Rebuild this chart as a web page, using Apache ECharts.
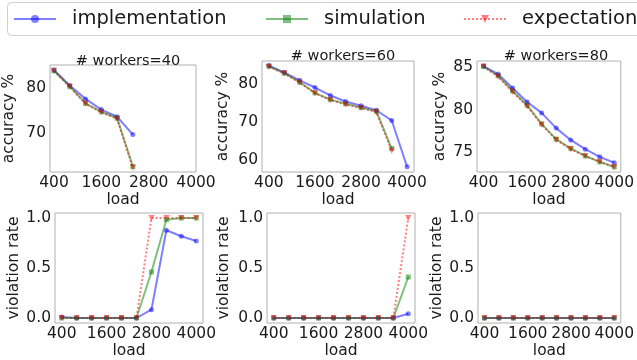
<!DOCTYPE html>
<html>
<head>
<meta charset="utf-8">
<script src="https://cdn.jsdelivr.net/npm/echarts@6/dist/echarts.min.js"></script>
<style>
  html, body { margin: 0; padding: 0; background: #fff; }
  #chart { width: 637px; height: 360px; }
</style>
</head>
<body>
<div id="chart"></div>
<script>
// load values on the x axis
const loads = [400, 800, 1200, 1600, 2000, 2400, 2800, 3200, 3600, 4000];
const xTicks = [400, 1600, 2800, 4000];

// accuracy %, one array per worker count
const acc40Impl = [84.1, 80.6, 77.6, 75.2, 73.6, 69.6];
const acc40Sim = [83.9, 80.4, 76.6, 74.7, 73.3, 62.4];
const acc40Exp = [83.9, 80.3, 76.5, 74.6, 73.1, 62.2];

const acc60Impl = [84.9, 83.1, 81.0, 79.1, 77.0, 75.4, 74.3, 73.1, 70.4, 58.2];
const acc60Sim = [84.7, 82.9, 80.5, 77.7, 75.9, 74.8, 73.8, 72.8, 63.0];
const acc60Exp = [84.6, 82.8, 80.4, 77.6, 75.8, 74.6, 73.7, 72.6, 62.4];

const acc80Impl = [85.15, 84.2, 82.55, 80.9, 79.6, 77.8, 76.4, 75.3, 74.4, 73.7];
const acc80Sim = [85.1, 84.0, 82.2, 80.5, 78.3, 76.5, 75.4, 74.5, 73.8, 73.2];
const acc80Exp = [85.1, 83.9, 82.1, 80.4, 78.2, 76.4, 75.3, 74.5, 73.8, 73.2];

// violation rate
const viol40Impl = [0.01, 0, 0, 0, 0, 0, 0.083, 0.877, 0.817, 0.77];
const viol40Sim = [0, 0, 0, 0, 0, 0, 0.46, 0.983, 1.0, 1.0];
const viol40Exp = [0, 0, 0, 0, 0, 0, 1, 1, 1, 1];

const viol60Impl = [0, 0, 0, 0, 0, 0, 0, 0, 0, 0.043];
const viol60Sim = [0, 0, 0, 0, 0, 0, 0, 0, 0, 0.41];
const viol60Exp = [0, 0, 0, 0, 0, 0, 0, 0, 0, 1];

const viol80Impl = [0, 0, 0, 0, 0, 0, 0, 0, 0, 0];
const viol80Sim = [0, 0, 0, 0, 0, 0, 0, 0, 0, 0];
const viol80Exp = [0, 0, 0, 0, 0, 0, 0, 0, 0, 0];

const titles = ["# workers=40", "# workers=60", "# workers=80"];

const FONT = "DejaVu Sans";
const LABEL_SIZE = 15.5;
const chart = echarts.init(document.getElementById("chart"));

// panel layout (px)
const panels = [
  { left: 50, top: 65, width: 146, height: 107, xMin: 300, xMax: 4000, yMin: 61.2, yMax: 85.2, yTicks: [70, 80], yName: "accuracy %", nameGap: 33 },
  { left: 262, top: 61, width: 152, height: 111, xMin: 220, xMax: 4180, yMin: 56.8, yMax: 86.1, yTicks: [60, 70, 80], yName: "accuracy %", nameGap: 31 },
  { left: 477, top: 61, width: 148, height: 111, xMin: 220, xMax: 4180, yMin: 72.6, yMax: 85.75, yTicks: [75, 80, 85], yName: "accuracy %", nameGap: 29 },
  { left: 55, top: 213, width: 148, height: 110, xMin: 220, xMax: 4180, yMin: -0.05, yMax: 1.05, yTicks: [0, 0.5, 1], yName: "violation rate", nameGap: 33 },
  { left: 267, top: 213, width: 148, height: 110, xMin: 220, xMax: 4180, yMin: -0.05, yMax: 1.05, yTicks: [0, 0.5, 1], yName: "violation rate", nameGap: 35 },
  { left: 478, top: 213, width: 148, height: 110, xMin: 220, xMax: 4180, yMin: -0.05, yMax: 1.05, yTicks: [0, 0.5, 1], yName: "violation rate", nameGap: 31 }
];

const panelData = [
  [acc40Impl, acc40Sim, acc40Exp],
  [acc60Impl, acc60Sim, acc60Exp],
  [acc80Impl, acc80Sim, acc80Exp],
  [viol40Impl, viol40Sim, viol40Exp],
  [viol60Impl, viol60Sim, viol60Exp],
  [viol80Impl, viol80Sim, viol80Exp]
];

const styles = [
  { name: "implementation", color: "rgba(0,0,255,0.5)", symbol: "circle", size: 5, type: "solid", rotate: 0, legendLeft: 13 },
  { name: "simulation", color: "rgba(0,128,0,0.5)", symbol: "rect", size: 5, type: "solid", rotate: 0, legendLeft: 265 },
  { name: "expectation", color: "rgba(255,0,0,0.5)", symbol: "triangle", size: 6, type: "dotted", rotate: 180, legendLeft: 463 }
];

function pairs(vals) {
  return vals.map((v, i) => [loads[i], v]);
}

const grid = [], xAxis = [], yAxis = [], series = [];
panels.forEach((p, i) => {
  grid.push({
    left: p.left, top: p.top, width: p.width, height: p.height,
    show: true, borderColor: "#b0b0b0", borderWidth: 1, backgroundColor: "transparent"
  });
  xAxis.push({
    type: "value", gridIndex: i, min: p.xMin, max: p.xMax,
    name: "load", nameLocation: "middle", nameGap: 17,
    nameTextStyle: { fontFamily: FONT, fontSize: LABEL_SIZE, color: "#1a1a1a" },
    axisLine: { show: false }, axisTick: { show: false }, splitLine: { show: false },
    axisLabel: { customValues: xTicks, fontFamily: FONT, fontSize: LABEL_SIZE, color: "#1a1a1a", margin: 3, formatter: v => String(v) }
  });
  yAxis.push({
    type: "value", gridIndex: i, min: p.yMin, max: p.yMax,
    name: p.yName, nameLocation: "middle", nameGap: p.nameGap,
    nameTextStyle: { fontFamily: FONT, fontSize: LABEL_SIZE, color: "#1a1a1a" },
    axisLine: { show: false }, axisTick: { show: false }, splitLine: { show: false },
    axisLabel: {
      customValues: p.yTicks, fontFamily: FONT, fontSize: LABEL_SIZE, color: "#1a1a1a", margin: 4,
      formatter: v => (i >= 3 ? v.toFixed(1) : String(v))
    }
  });
  panelData[i].forEach((vals, k) => {
    const s = styles[k];
    series.push({
      name: s.name, type: "line", xAxisIndex: i, yAxisIndex: i,
      data: pairs(vals), symbol: s.symbol, symbolSize: s.size, symbolRotate: s.rotate,
      showAllSymbol: true, silent: true, animation: false,
      lineStyle: { color: s.color, width: 2, type: s.type },
      itemStyle: { color: s.color }
    });
  });
});

const titleStyle = { fontFamily: FONT, fontSize: 14.5, fontWeight: "normal", color: "#1a1a1a" };

// one legend per entry so each can be placed like the original
const legend = styles.map(s => ({
  data: [s.name],
  left: s.legendLeft, top: 9,
  padding: 0,
  itemWidth: 42, itemHeight: 10,
  selectedMode: false,
  textStyle: { fontFamily: FONT, fontSize: 19.5, color: "#1a1a1a", padding: [0, 0, 0, 11] }
}));

const option = {
  backgroundColor: "#fff",
  textStyle: { fontFamily: FONT },
  title: [
    { text: titles[0], left: 123, top: 49, textAlign: "center", textStyle: titleStyle },
    { text: titles[1], left: 338, top: 44, textAlign: "center", textStyle: titleStyle },
    { text: titles[2], left: 551, top: 44, textAlign: "center", textStyle: titleStyle }
  ],
  legend,
  graphic: [{
    type: "rect", silent: true, z: -1,
    shape: { x: 7.5, y: 2.5, width: 640, height: 33, r: 4 },
    style: { fill: "#fff", stroke: "#d0d0d0", lineWidth: 1 }
  }],
  grid, xAxis, yAxis, series
};

chart.setOption(option);
</script>
</body>
</html>
